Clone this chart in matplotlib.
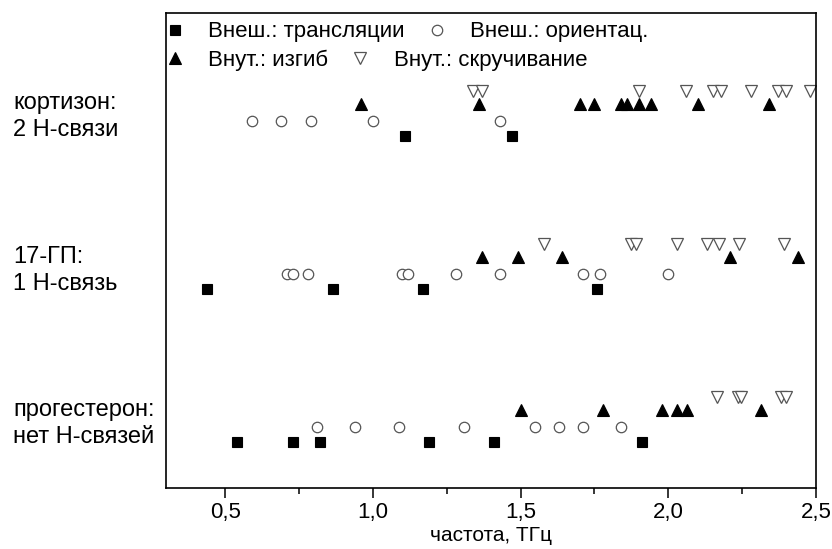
import numpy as np
import matplotlib
matplotlib.use("Agg")
import matplotlib.pyplot as plt
from matplotlib.ticker import FuncFormatter, MultipleLocator
from matplotlib.transforms import blended_transform_factory

plt.rcParams["font.family"] = ["Liberation Sans", "DejaVu Sans"]

# frequencies, THz
cort_trans = [1.11, 1.47]
cort_orient = [0.59, 0.69, 0.79, 1.00, 1.43]
cort_bend = [0.96, 1.36, 1.70, 1.75, 1.84, 1.86, 1.90, 1.94, 2.10, 2.34]
cort_twist = [1.34, 1.37, 1.90, 2.06, 2.15, 2.18, 2.28, 2.37, 2.40, 2.48]

gp_trans = [0.44, 0.865, 1.17, 1.76]
gp_orient = [0.71, 0.73, 0.78, 1.10, 1.12, 1.28, 1.43, 1.71, 1.77, 2.00]
gp_bend = [1.37, 1.49, 1.64, 2.21, 2.44]
gp_twist = [1.58, 1.875, 1.89, 2.03, 2.13, 2.17, 2.24, 2.39]

prog_trans = [0.54, 0.73, 0.82, 1.19, 1.41, 1.91]
prog_orient = [0.81, 0.94, 1.09, 1.31, 1.55, 1.63, 1.71, 1.84]
prog_bend = [1.50, 1.78, 1.98, 2.03, 2.065, 2.315]
prog_twist = [2.165, 2.235, 2.245, 2.38, 2.40]

row_labels = ["прогестерон:\nнет H-связей", "17-ГП:\n1 H-связь", "кортизон:\n2 H-связи"]
series_labels = ["Внеш.: трансляции", "Внеш.: ориентац.", "Внут.: изгиб", "Внут.: скручивание"]

rows = [
    (prog_trans, prog_orient, prog_bend, prog_twist),
    (gp_trans, gp_orient, gp_bend, gp_twist),
    (cort_trans, cort_orient, cort_bend, cort_twist),
]

# vertical offset of each mode type inside a row
offsets = [0.0, 0.1, 0.21, 0.295]
styles = [
    dict(marker="s", ms=7, mfc="black", mec="black", mew=0.8),
    dict(marker="o", ms=7.5, mfc="white", mec="#555555", mew=0.9),
    dict(marker="^", ms=8.5, mfc="black", mec="black", mew=0.8),
    dict(marker="v", ms=8.5, mfc="white", mec="#555555", mew=0.9),
]

fig = plt.figure(figsize=(8.32, 5.49), dpi=100)
ax = fig.add_axes([166 / 832, 1 - 488 / 549, 650 / 832, 475 / 549])

handles = [None] * 4
for i, series in enumerate(rows):
    for k, xs in enumerate(series):
        ys = np.full(len(xs), i + offsets[k])
        (h,) = ax.plot(xs, ys, ls="none", **styles[k])
        handles[k] = h

ax.set_xlim(0.3, 2.5)
ax.set_ylim(-0.297, 2.803)
ax.set_yticks([])
ax.xaxis.set_major_locator(MultipleLocator(0.5))
ax.xaxis.set_minor_locator(MultipleLocator(0.25))
ax.xaxis.set_major_formatter(FuncFormatter(lambda v, p: f"{v:.1f}".replace(".", ",")))
ax.tick_params(axis="x", which="major", direction="out", length=7, width=1.1,
               labelsize=16, pad=3)
ax.tick_params(axis="x", which="minor", direction="out", length=4.5, width=1.1)
for s in ax.spines.values():
    s.set_linewidth(1.2)
ax.set_xlabel("частота, ТГц", fontsize=15, labelpad=2.5)

trans = blended_transform_factory(fig.transFigure, ax.transData)
for i, lab in enumerate(row_labels):
    ax.text(13 / 832, i + 0.125, lab, transform=trans, ha="left", va="center",
            fontsize=17, linespacing=1.3)

leg_kw = dict(loc="center left", frameon=False, ncol=2, fontsize=16,
              handlelength=0.8, handletextpad=1.1, columnspacing=1.05,
              borderpad=0, borderaxespad=0)
leg1 = ax.legend([handles[0], handles[1]], series_labels[:2],
                 bbox_to_anchor=(0.0, 0.96), **leg_kw)
ax.add_artist(leg1)
ax.legend([handles[2], handles[3]], series_labels[2:],
          bbox_to_anchor=(0.0, 0.901), **leg_kw)

fig.savefig("out.png", dpi=100)
